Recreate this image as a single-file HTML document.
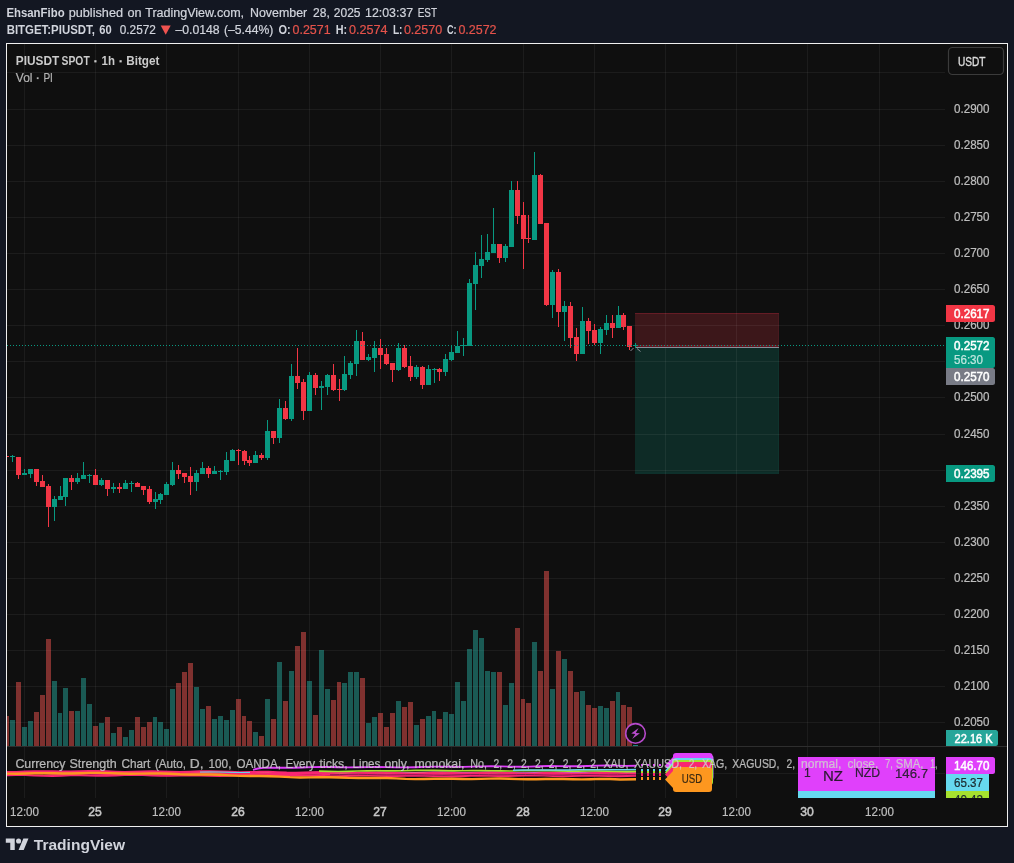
<!DOCTYPE html>
<html><head><meta charset="utf-8"><title>PIUSDT chart</title>
<style>html,body{margin:0;padding:0;background:#131722;width:1014px;height:863px;overflow:hidden;font-family:"Liberation Sans",sans-serif}</style>
</head><body>
<svg width="1014" height="863" viewBox="0 0 1014 863" style="position:absolute;left:0;top:0;display:block;will-change:transform" font-family="Liberation Sans, sans-serif">
<rect width="1014" height="863" fill="#131722"/>
<rect x="6" y="43" width="1002" height="784" fill="#f0f0f0"/>
<rect x="7" y="44" width="1000" height="782" fill="#0f0f0f"/>
<g fill="#ffffff" fill-opacity="0.055" shape-rendering="crispEdges">
<rect x="7" y="72" width="938" height="1"/>
<rect x="7" y="109" width="938" height="1"/>
<rect x="7" y="145" width="938" height="1"/>
<rect x="7" y="181" width="938" height="1"/>
<rect x="7" y="217" width="938" height="1"/>
<rect x="7" y="253" width="938" height="1"/>
<rect x="7" y="289" width="938" height="1"/>
<rect x="7" y="325" width="938" height="1"/>
<rect x="7" y="361" width="938" height="1"/>
<rect x="7" y="397" width="938" height="1"/>
<rect x="7" y="434" width="938" height="1"/>
<rect x="7" y="470" width="938" height="1"/>
<rect x="7" y="506" width="938" height="1"/>
<rect x="7" y="542" width="938" height="1"/>
<rect x="7" y="578" width="938" height="1"/>
<rect x="7" y="614" width="938" height="1"/>
<rect x="7" y="650" width="938" height="1"/>
<rect x="7" y="686" width="938" height="1"/>
<rect x="7" y="722" width="938" height="1"/>
<rect x="7" y="773" width="938" height="1"/>
<rect x="24" y="44" width="1" height="754"/>
<rect x="95" y="44" width="1" height="754"/>
<rect x="166" y="44" width="1" height="754"/>
<rect x="238" y="44" width="1" height="754"/>
<rect x="309" y="44" width="1" height="754"/>
<rect x="380" y="44" width="1" height="754"/>
<rect x="451" y="44" width="1" height="754"/>
<rect x="523" y="44" width="1" height="754"/>
<rect x="594" y="44" width="1" height="754"/>
<rect x="665" y="44" width="1" height="754"/>
<rect x="736" y="44" width="1" height="754"/>
<rect x="807" y="44" width="1" height="754"/>
<rect x="879" y="44" width="1" height="754"/>
</g>
<rect x="7" y="746" width="1000" height="1" fill="#2e2e2e" shape-rendering="crispEdges"/>
<g shape-rendering="crispEdges">
<rect x="7" y="716" width="2" height="30" fill="rgba(239,83,80,0.5)"/>
<rect x="10" y="720" width="5" height="26" fill="rgba(38,166,154,0.5)"/>
<rect x="16" y="682" width="5" height="64" fill="rgba(239,83,80,0.5)"/>
<rect x="22" y="727" width="5" height="19" fill="rgba(38,166,154,0.5)"/>
<rect x="28" y="721" width="5" height="25" fill="rgba(38,166,154,0.5)"/>
<rect x="34" y="712" width="5" height="34" fill="rgba(239,83,80,0.5)"/>
<rect x="40" y="695" width="5" height="51" fill="rgba(239,83,80,0.5)"/>
<rect x="46" y="639" width="5" height="107" fill="rgba(239,83,80,0.5)"/>
<rect x="52" y="681" width="5" height="65" fill="rgba(38,166,154,0.5)"/>
<rect x="58" y="713" width="4" height="33" fill="rgba(38,166,154,0.5)"/>
<rect x="63" y="688" width="5" height="58" fill="rgba(38,166,154,0.5)"/>
<rect x="69" y="711" width="5" height="35" fill="rgba(239,83,80,0.5)"/>
<rect x="75" y="711" width="5" height="35" fill="rgba(38,166,154,0.5)"/>
<rect x="81" y="678" width="5" height="68" fill="rgba(38,166,154,0.5)"/>
<rect x="87" y="704" width="5" height="42" fill="rgba(38,166,154,0.5)"/>
<rect x="93" y="726" width="5" height="20" fill="rgba(239,83,80,0.5)"/>
<rect x="99" y="723" width="5" height="23" fill="rgba(38,166,154,0.5)"/>
<rect x="105" y="717" width="5" height="29" fill="rgba(239,83,80,0.5)"/>
<rect x="111" y="733" width="5" height="13" fill="rgba(38,166,154,0.5)"/>
<rect x="117" y="727" width="5" height="19" fill="rgba(239,83,80,0.5)"/>
<rect x="123" y="737" width="5" height="9" fill="rgba(38,166,154,0.5)"/>
<rect x="129" y="730" width="5" height="16" fill="rgba(38,166,154,0.5)"/>
<rect x="135" y="717" width="5" height="29" fill="rgba(239,83,80,0.5)"/>
<rect x="141" y="727" width="5" height="19" fill="rgba(239,83,80,0.5)"/>
<rect x="147" y="722" width="5" height="24" fill="rgba(239,83,80,0.5)"/>
<rect x="153" y="717" width="4" height="29" fill="rgba(38,166,154,0.5)"/>
<rect x="158" y="722" width="5" height="24" fill="rgba(38,166,154,0.5)"/>
<rect x="164" y="729" width="5" height="17" fill="rgba(38,166,154,0.5)"/>
<rect x="170" y="689" width="5" height="57" fill="rgba(38,166,154,0.5)"/>
<rect x="176" y="683" width="5" height="63" fill="rgba(239,83,80,0.5)"/>
<rect x="182" y="672" width="5" height="74" fill="rgba(239,83,80,0.5)"/>
<rect x="188" y="663" width="5" height="83" fill="rgba(239,83,80,0.5)"/>
<rect x="194" y="687" width="5" height="59" fill="rgba(38,166,154,0.5)"/>
<rect x="200" y="709" width="5" height="37" fill="rgba(38,166,154,0.5)"/>
<rect x="206" y="706" width="5" height="40" fill="rgba(239,83,80,0.5)"/>
<rect x="212" y="719" width="5" height="27" fill="rgba(38,166,154,0.5)"/>
<rect x="218" y="716" width="5" height="30" fill="rgba(38,166,154,0.5)"/>
<rect x="224" y="720" width="5" height="26" fill="rgba(38,166,154,0.5)"/>
<rect x="230" y="710" width="5" height="36" fill="rgba(38,166,154,0.5)"/>
<rect x="236" y="699" width="5" height="47" fill="rgba(239,83,80,0.5)"/>
<rect x="242" y="716" width="4" height="30" fill="rgba(239,83,80,0.5)"/>
<rect x="247" y="721" width="5" height="25" fill="rgba(239,83,80,0.5)"/>
<rect x="253" y="732" width="5" height="14" fill="rgba(38,166,154,0.5)"/>
<rect x="259" y="736" width="5" height="10" fill="rgba(239,83,80,0.5)"/>
<rect x="265" y="699" width="5" height="47" fill="rgba(38,166,154,0.5)"/>
<rect x="271" y="719" width="5" height="27" fill="rgba(239,83,80,0.5)"/>
<rect x="277" y="662" width="5" height="84" fill="rgba(38,166,154,0.5)"/>
<rect x="283" y="701" width="5" height="45" fill="rgba(239,83,80,0.5)"/>
<rect x="289" y="671" width="5" height="75" fill="rgba(38,166,154,0.5)"/>
<rect x="295" y="646" width="5" height="100" fill="rgba(239,83,80,0.5)"/>
<rect x="301" y="632" width="5" height="114" fill="rgba(239,83,80,0.5)"/>
<rect x="307" y="681" width="5" height="65" fill="rgba(38,166,154,0.5)"/>
<rect x="313" y="715" width="5" height="31" fill="rgba(239,83,80,0.5)"/>
<rect x="319" y="650" width="5" height="96" fill="rgba(38,166,154,0.5)"/>
<rect x="325" y="689" width="5" height="57" fill="rgba(38,166,154,0.5)"/>
<rect x="331" y="700" width="5" height="46" fill="rgba(239,83,80,0.5)"/>
<rect x="337" y="682" width="4" height="64" fill="rgba(239,83,80,0.5)"/>
<rect x="342" y="683" width="5" height="63" fill="rgba(38,166,154,0.5)"/>
<rect x="348" y="672" width="5" height="74" fill="rgba(38,166,154,0.5)"/>
<rect x="354" y="672" width="5" height="74" fill="rgba(38,166,154,0.5)"/>
<rect x="360" y="678" width="5" height="68" fill="rgba(239,83,80,0.5)"/>
<rect x="366" y="723" width="5" height="23" fill="rgba(38,166,154,0.5)"/>
<rect x="372" y="717" width="5" height="29" fill="rgba(38,166,154,0.5)"/>
<rect x="378" y="713" width="5" height="33" fill="rgba(239,83,80,0.5)"/>
<rect x="384" y="727" width="5" height="19" fill="rgba(239,83,80,0.5)"/>
<rect x="390" y="713" width="5" height="33" fill="rgba(239,83,80,0.5)"/>
<rect x="396" y="701" width="5" height="45" fill="rgba(38,166,154,0.5)"/>
<rect x="402" y="707" width="5" height="39" fill="rgba(239,83,80,0.5)"/>
<rect x="408" y="702" width="5" height="44" fill="rgba(239,83,80,0.5)"/>
<rect x="414" y="725" width="5" height="21" fill="rgba(38,166,154,0.5)"/>
<rect x="420" y="719" width="5" height="27" fill="rgba(239,83,80,0.5)"/>
<rect x="426" y="716" width="5" height="30" fill="rgba(38,166,154,0.5)"/>
<rect x="432" y="711" width="4" height="35" fill="rgba(38,166,154,0.5)"/>
<rect x="437" y="719" width="5" height="27" fill="rgba(239,83,80,0.5)"/>
<rect x="443" y="712" width="5" height="34" fill="rgba(38,166,154,0.5)"/>
<rect x="449" y="714" width="5" height="32" fill="rgba(38,166,154,0.5)"/>
<rect x="455" y="682" width="5" height="64" fill="rgba(38,166,154,0.5)"/>
<rect x="461" y="701" width="5" height="45" fill="rgba(38,166,154,0.5)"/>
<rect x="467" y="649" width="5" height="97" fill="rgba(38,166,154,0.5)"/>
<rect x="473" y="630" width="5" height="116" fill="rgba(38,166,154,0.5)"/>
<rect x="479" y="638" width="5" height="108" fill="rgba(38,166,154,0.5)"/>
<rect x="485" y="671" width="5" height="75" fill="rgba(38,166,154,0.5)"/>
<rect x="491" y="672" width="5" height="74" fill="rgba(38,166,154,0.5)"/>
<rect x="497" y="672" width="5" height="74" fill="rgba(239,83,80,0.5)"/>
<rect x="503" y="705" width="5" height="41" fill="rgba(38,166,154,0.5)"/>
<rect x="509" y="683" width="5" height="63" fill="rgba(38,166,154,0.5)"/>
<rect x="515" y="628" width="5" height="118" fill="rgba(239,83,80,0.5)"/>
<rect x="521" y="699" width="4" height="47" fill="rgba(239,83,80,0.5)"/>
<rect x="526" y="703" width="5" height="43" fill="rgba(239,83,80,0.5)"/>
<rect x="532" y="642" width="5" height="104" fill="rgba(38,166,154,0.5)"/>
<rect x="538" y="671" width="5" height="75" fill="rgba(239,83,80,0.5)"/>
<rect x="544" y="571" width="5" height="175" fill="rgba(239,83,80,0.5)"/>
<rect x="550" y="689" width="5" height="57" fill="rgba(38,166,154,0.5)"/>
<rect x="556" y="651" width="5" height="95" fill="rgba(239,83,80,0.5)"/>
<rect x="562" y="659" width="5" height="87" fill="rgba(38,166,154,0.5)"/>
<rect x="568" y="671" width="5" height="75" fill="rgba(239,83,80,0.5)"/>
<rect x="574" y="692" width="5" height="54" fill="rgba(239,83,80,0.5)"/>
<rect x="580" y="691" width="5" height="55" fill="rgba(38,166,154,0.5)"/>
<rect x="586" y="705" width="5" height="41" fill="rgba(239,83,80,0.5)"/>
<rect x="592" y="708" width="5" height="38" fill="rgba(239,83,80,0.5)"/>
<rect x="598" y="706" width="5" height="40" fill="rgba(38,166,154,0.5)"/>
<rect x="604" y="708" width="5" height="38" fill="rgba(38,166,154,0.5)"/>
<rect x="610" y="701" width="5" height="45" fill="rgba(239,83,80,0.5)"/>
<rect x="616" y="692" width="4" height="54" fill="rgba(38,166,154,0.5)"/>
<rect x="621" y="705" width="5" height="41" fill="rgba(239,83,80,0.5)"/>
<rect x="627" y="707" width="5" height="39" fill="rgba(239,83,80,0.5)"/>
<rect x="633" y="745" width="5" height="1" fill="#1f847a"/>
</g>
<g shape-rendering="crispEdges">
<rect x="635" y="313" width="144" height="34" fill="#3c171a"/>
<rect x="635" y="313" width="144" height="1" fill="#651c25"/><rect x="778" y="314" width="1" height="33" fill="#481a1f"/>
<rect x="635" y="348" width="144" height="126" fill="#0e2b26"/>
<rect x="635" y="472" width="144" height="2" fill="#0e302b"/><rect x="778" y="348" width="1" height="126" fill="#0f332d"/>
<rect x="635" y="325" width="144" height="1" fill="#ffffff" fill-opacity="0.06"/>
<rect x="635" y="361" width="144" height="1" fill="#ffffff" fill-opacity="0.06"/>
<rect x="635" y="397" width="144" height="1" fill="#ffffff" fill-opacity="0.06"/>
<rect x="635" y="434" width="144" height="1" fill="#ffffff" fill-opacity="0.06"/>
<rect x="635" y="470" width="144" height="1" fill="#ffffff" fill-opacity="0.06"/>
<rect x="665" y="313" width="1" height="161" fill="#ffffff" fill-opacity="0.06"/>
<rect x="736" y="313" width="1" height="161" fill="#ffffff" fill-opacity="0.06"/>
<rect x="635" y="345" width="144" height="1" fill="#6e1622"/><rect x="635" y="346" width="144" height="1" fill="#5a1a24"/>
<rect x="635" y="347" width="144" height="1" fill="#8b8e99"/>
</g>
<g shape-rendering="crispEdges">
<rect x="7" y="456" width="2" height="1" fill="#f23645"/>
<rect x="12" y="455" width="1" height="7" fill="#089981"/>
<rect x="10" y="456" width="5" height="1" fill="#089981"/>
<rect x="18" y="457" width="1" height="22" fill="#f23645"/>
<rect x="16" y="457" width="5" height="18" fill="#f23645"/>
<rect x="24" y="469" width="1" height="6" fill="#089981"/>
<rect x="22" y="473" width="5" height="2" fill="#089981"/>
<rect x="30" y="469" width="1" height="9" fill="#089981"/>
<rect x="28" y="469" width="5" height="5" fill="#089981"/>
<rect x="36" y="469" width="1" height="17" fill="#f23645"/>
<rect x="34" y="469" width="5" height="13" fill="#f23645"/>
<rect x="42" y="475" width="1" height="12" fill="#f23645"/>
<rect x="40" y="481" width="5" height="6" fill="#f23645"/>
<rect x="48" y="484" width="1" height="43" fill="#f23645"/>
<rect x="46" y="486" width="5" height="21" fill="#f23645"/>
<rect x="54" y="496" width="1" height="25" fill="#089981"/>
<rect x="52" y="499" width="5" height="8" fill="#089981"/>
<rect x="60" y="486" width="1" height="14" fill="#089981"/>
<rect x="58" y="496" width="5" height="4" fill="#089981"/>
<rect x="65" y="478" width="1" height="28" fill="#089981"/>
<rect x="63" y="478" width="5" height="19" fill="#089981"/>
<rect x="71" y="475" width="1" height="15" fill="#f23645"/>
<rect x="69" y="478" width="5" height="4" fill="#f23645"/>
<rect x="77" y="473" width="1" height="11" fill="#089981"/>
<rect x="75" y="478" width="5" height="4" fill="#089981"/>
<rect x="83" y="462" width="1" height="17" fill="#089981"/>
<rect x="81" y="475" width="5" height="4" fill="#089981"/>
<rect x="89" y="474" width="1" height="9" fill="#089981"/>
<rect x="87" y="475" width="5" height="1" fill="#089981"/>
<rect x="95" y="469" width="1" height="16" fill="#f23645"/>
<rect x="93" y="475" width="5" height="10" fill="#f23645"/>
<rect x="101" y="478" width="1" height="8" fill="#089981"/>
<rect x="99" y="480" width="5" height="5" fill="#089981"/>
<rect x="107" y="480" width="1" height="16" fill="#f23645"/>
<rect x="105" y="480" width="5" height="9" fill="#f23645"/>
<rect x="113" y="483" width="1" height="10" fill="#089981"/>
<rect x="111" y="487" width="5" height="2" fill="#089981"/>
<rect x="119" y="483" width="1" height="10" fill="#f23645"/>
<rect x="117" y="487" width="5" height="2" fill="#f23645"/>
<rect x="125" y="480" width="1" height="9" fill="#089981"/>
<rect x="123" y="483" width="5" height="6" fill="#089981"/>
<rect x="131" y="481" width="1" height="11" fill="#089981"/>
<rect x="129" y="483" width="5" height="1" fill="#089981"/>
<rect x="137" y="482" width="1" height="5" fill="#f23645"/>
<rect x="135" y="483" width="5" height="4" fill="#f23645"/>
<rect x="143" y="486" width="1" height="9" fill="#f23645"/>
<rect x="141" y="486" width="5" height="4" fill="#f23645"/>
<rect x="149" y="486" width="1" height="18" fill="#f23645"/>
<rect x="147" y="489" width="5" height="13" fill="#f23645"/>
<rect x="155" y="492" width="1" height="17" fill="#089981"/>
<rect x="153" y="499" width="5" height="3" fill="#089981"/>
<rect x="160" y="493" width="1" height="11" fill="#089981"/>
<rect x="158" y="494" width="5" height="6" fill="#089981"/>
<rect x="166" y="482" width="1" height="13" fill="#089981"/>
<rect x="164" y="484" width="5" height="11" fill="#089981"/>
<rect x="172" y="462" width="1" height="24" fill="#089981"/>
<rect x="170" y="470" width="5" height="15" fill="#089981"/>
<rect x="178" y="465" width="1" height="14" fill="#f23645"/>
<rect x="176" y="470" width="5" height="4" fill="#f23645"/>
<rect x="184" y="473" width="1" height="10" fill="#f23645"/>
<rect x="182" y="473" width="5" height="4" fill="#f23645"/>
<rect x="190" y="467" width="1" height="28" fill="#f23645"/>
<rect x="188" y="476" width="5" height="6" fill="#f23645"/>
<rect x="196" y="470" width="1" height="21" fill="#089981"/>
<rect x="194" y="473" width="5" height="9" fill="#089981"/>
<rect x="202" y="462" width="1" height="12" fill="#089981"/>
<rect x="200" y="468" width="5" height="6" fill="#089981"/>
<rect x="208" y="466" width="1" height="12" fill="#f23645"/>
<rect x="206" y="468" width="5" height="6" fill="#f23645"/>
<rect x="214" y="466" width="1" height="8" fill="#089981"/>
<rect x="212" y="471" width="5" height="3" fill="#089981"/>
<rect x="220" y="470" width="1" height="10" fill="#089981"/>
<rect x="218" y="471" width="5" height="1" fill="#089981"/>
<rect x="226" y="452" width="1" height="23" fill="#089981"/>
<rect x="224" y="460" width="5" height="12" fill="#089981"/>
<rect x="232" y="449" width="1" height="12" fill="#089981"/>
<rect x="230" y="450" width="5" height="11" fill="#089981"/>
<rect x="238" y="449" width="1" height="16" fill="#f23645"/>
<rect x="236" y="450" width="5" height="1" fill="#f23645"/>
<rect x="244" y="450" width="1" height="15" fill="#f23645"/>
<rect x="242" y="451" width="5" height="10" fill="#f23645"/>
<rect x="249" y="456" width="1" height="10" fill="#f23645"/>
<rect x="247" y="460" width="5" height="3" fill="#f23645"/>
<rect x="255" y="451" width="1" height="12" fill="#089981"/>
<rect x="253" y="455" width="5" height="8" fill="#089981"/>
<rect x="261" y="453" width="1" height="7" fill="#f23645"/>
<rect x="259" y="455" width="5" height="3" fill="#f23645"/>
<rect x="267" y="420" width="1" height="40" fill="#089981"/>
<rect x="265" y="431" width="5" height="27" fill="#089981"/>
<rect x="273" y="431" width="1" height="13" fill="#f23645"/>
<rect x="271" y="431" width="5" height="7" fill="#f23645"/>
<rect x="279" y="399" width="1" height="44" fill="#089981"/>
<rect x="277" y="408" width="5" height="30" fill="#089981"/>
<rect x="285" y="401" width="1" height="19" fill="#f23645"/>
<rect x="283" y="408" width="5" height="11" fill="#f23645"/>
<rect x="291" y="364" width="1" height="57" fill="#089981"/>
<rect x="289" y="376" width="5" height="43" fill="#089981"/>
<rect x="297" y="348" width="1" height="41" fill="#f23645"/>
<rect x="295" y="376" width="5" height="7" fill="#f23645"/>
<rect x="303" y="379" width="1" height="41" fill="#f23645"/>
<rect x="301" y="382" width="5" height="29" fill="#f23645"/>
<rect x="309" y="372" width="1" height="39" fill="#089981"/>
<rect x="307" y="375" width="5" height="36" fill="#089981"/>
<rect x="315" y="373" width="1" height="22" fill="#f23645"/>
<rect x="313" y="375" width="5" height="13" fill="#f23645"/>
<rect x="321" y="381" width="1" height="29" fill="#089981"/>
<rect x="319" y="386" width="5" height="2" fill="#089981"/>
<rect x="327" y="374" width="1" height="21" fill="#089981"/>
<rect x="325" y="375" width="5" height="12" fill="#089981"/>
<rect x="333" y="364" width="1" height="27" fill="#f23645"/>
<rect x="331" y="375" width="5" height="15" fill="#f23645"/>
<rect x="339" y="379" width="1" height="22" fill="#f23645"/>
<rect x="337" y="389" width="5" height="1" fill="#f23645"/>
<rect x="344" y="356" width="1" height="35" fill="#089981"/>
<rect x="342" y="374" width="5" height="16" fill="#089981"/>
<rect x="350" y="361" width="1" height="18" fill="#089981"/>
<rect x="348" y="363" width="5" height="12" fill="#089981"/>
<rect x="356" y="330" width="1" height="46" fill="#089981"/>
<rect x="354" y="341" width="5" height="23" fill="#089981"/>
<rect x="362" y="332" width="1" height="28" fill="#f23645"/>
<rect x="360" y="341" width="5" height="19" fill="#f23645"/>
<rect x="368" y="354" width="1" height="7" fill="#089981"/>
<rect x="366" y="357" width="5" height="3" fill="#089981"/>
<rect x="374" y="341" width="1" height="31" fill="#089981"/>
<rect x="372" y="348" width="5" height="10" fill="#089981"/>
<rect x="380" y="339" width="1" height="30" fill="#f23645"/>
<rect x="378" y="348" width="5" height="7" fill="#f23645"/>
<rect x="386" y="348" width="1" height="17" fill="#f23645"/>
<rect x="384" y="354" width="5" height="10" fill="#f23645"/>
<rect x="392" y="363" width="1" height="19" fill="#f23645"/>
<rect x="390" y="363" width="5" height="7" fill="#f23645"/>
<rect x="398" y="343" width="1" height="28" fill="#089981"/>
<rect x="396" y="348" width="5" height="22" fill="#089981"/>
<rect x="404" y="345" width="1" height="23" fill="#f23645"/>
<rect x="402" y="348" width="5" height="19" fill="#f23645"/>
<rect x="410" y="356" width="1" height="25" fill="#f23645"/>
<rect x="408" y="366" width="5" height="11" fill="#f23645"/>
<rect x="416" y="365" width="1" height="14" fill="#089981"/>
<rect x="414" y="367" width="5" height="10" fill="#089981"/>
<rect x="422" y="366" width="1" height="23" fill="#f23645"/>
<rect x="420" y="367" width="5" height="18" fill="#f23645"/>
<rect x="428" y="365" width="1" height="20" fill="#089981"/>
<rect x="426" y="369" width="5" height="16" fill="#089981"/>
<rect x="434" y="368" width="1" height="15" fill="#089981"/>
<rect x="432" y="369" width="5" height="1" fill="#089981"/>
<rect x="439" y="368" width="1" height="13" fill="#f23645"/>
<rect x="437" y="369" width="5" height="3" fill="#f23645"/>
<rect x="445" y="354" width="1" height="22" fill="#089981"/>
<rect x="443" y="359" width="5" height="13" fill="#089981"/>
<rect x="451" y="345" width="1" height="16" fill="#089981"/>
<rect x="449" y="352" width="5" height="8" fill="#089981"/>
<rect x="457" y="331" width="1" height="22" fill="#089981"/>
<rect x="455" y="346" width="5" height="7" fill="#089981"/>
<rect x="463" y="338" width="1" height="18" fill="#089981"/>
<rect x="461" y="345" width="5" height="1" fill="#089981"/>
<rect x="469" y="279" width="1" height="67" fill="#089981"/>
<rect x="467" y="283" width="5" height="63" fill="#089981"/>
<rect x="475" y="252" width="1" height="58" fill="#089981"/>
<rect x="473" y="265" width="5" height="19" fill="#089981"/>
<rect x="481" y="235" width="1" height="43" fill="#089981"/>
<rect x="479" y="259" width="5" height="7" fill="#089981"/>
<rect x="487" y="234" width="1" height="28" fill="#089981"/>
<rect x="485" y="252" width="5" height="8" fill="#089981"/>
<rect x="493" y="208" width="1" height="45" fill="#089981"/>
<rect x="491" y="244" width="5" height="9" fill="#089981"/>
<rect x="499" y="244" width="1" height="19" fill="#f23645"/>
<rect x="497" y="244" width="5" height="14" fill="#f23645"/>
<rect x="505" y="244" width="1" height="18" fill="#089981"/>
<rect x="503" y="246" width="5" height="12" fill="#089981"/>
<rect x="511" y="181" width="1" height="66" fill="#089981"/>
<rect x="509" y="190" width="5" height="57" fill="#089981"/>
<rect x="517" y="181" width="1" height="43" fill="#f23645"/>
<rect x="515" y="190" width="5" height="26" fill="#f23645"/>
<rect x="523" y="202" width="1" height="67" fill="#f23645"/>
<rect x="521" y="215" width="5" height="24" fill="#f23645"/>
<rect x="528" y="215" width="1" height="28" fill="#f23645"/>
<rect x="526" y="238" width="5" height="1" fill="#f23645"/>
<rect x="534" y="152" width="1" height="88" fill="#089981"/>
<rect x="532" y="175" width="5" height="65" fill="#089981"/>
<rect x="540" y="174" width="1" height="50" fill="#f23645"/>
<rect x="538" y="175" width="5" height="49" fill="#f23645"/>
<rect x="546" y="223" width="1" height="83" fill="#f23645"/>
<rect x="544" y="223" width="5" height="82" fill="#f23645"/>
<rect x="552" y="270" width="1" height="48" fill="#089981"/>
<rect x="550" y="272" width="5" height="33" fill="#089981"/>
<rect x="558" y="269" width="1" height="58" fill="#f23645"/>
<rect x="556" y="272" width="5" height="40" fill="#f23645"/>
<rect x="564" y="301" width="1" height="40" fill="#089981"/>
<rect x="562" y="306" width="5" height="6" fill="#089981"/>
<rect x="570" y="302" width="1" height="46" fill="#f23645"/>
<rect x="568" y="306" width="5" height="32" fill="#f23645"/>
<rect x="576" y="328" width="1" height="33" fill="#f23645"/>
<rect x="574" y="337" width="5" height="17" fill="#f23645"/>
<rect x="582" y="307" width="1" height="47" fill="#089981"/>
<rect x="580" y="321" width="5" height="33" fill="#089981"/>
<rect x="588" y="318" width="1" height="26" fill="#f23645"/>
<rect x="586" y="321" width="5" height="10" fill="#f23645"/>
<rect x="594" y="324" width="1" height="21" fill="#f23645"/>
<rect x="592" y="330" width="5" height="13" fill="#f23645"/>
<rect x="600" y="327" width="1" height="27" fill="#089981"/>
<rect x="598" y="329" width="5" height="14" fill="#089981"/>
<rect x="606" y="315" width="1" height="20" fill="#089981"/>
<rect x="604" y="323" width="5" height="7" fill="#089981"/>
<rect x="612" y="315" width="1" height="23" fill="#f23645"/>
<rect x="610" y="323" width="5" height="5" fill="#f23645"/>
<rect x="618" y="306" width="1" height="22" fill="#089981"/>
<rect x="616" y="315" width="5" height="13" fill="#089981"/>
<rect x="623" y="313" width="1" height="17" fill="#f23645"/>
<rect x="621" y="315" width="5" height="12" fill="#f23645"/>
<rect x="629" y="326" width="1" height="24" fill="#f23645"/>
<rect x="627" y="326" width="5" height="21" fill="#f23645"/>
</g>
<g fill="#089981" shape-rendering="crispEdges">
<rect x="7" y="345" width="1" height="1"/>
<rect x="10" y="345" width="1" height="1"/>
<rect x="13" y="345" width="1" height="1"/>
<rect x="16" y="345" width="1" height="1"/>
<rect x="19" y="345" width="1" height="1"/>
<rect x="22" y="345" width="1" height="1"/>
<rect x="25" y="345" width="1" height="1"/>
<rect x="28" y="345" width="1" height="1"/>
<rect x="31" y="345" width="1" height="1"/>
<rect x="34" y="345" width="1" height="1"/>
<rect x="37" y="345" width="1" height="1"/>
<rect x="40" y="345" width="1" height="1"/>
<rect x="43" y="345" width="1" height="1"/>
<rect x="46" y="345" width="1" height="1"/>
<rect x="49" y="345" width="1" height="1"/>
<rect x="52" y="345" width="1" height="1"/>
<rect x="55" y="345" width="1" height="1"/>
<rect x="58" y="345" width="1" height="1"/>
<rect x="61" y="345" width="1" height="1"/>
<rect x="64" y="345" width="1" height="1"/>
<rect x="67" y="345" width="1" height="1"/>
<rect x="70" y="345" width="1" height="1"/>
<rect x="73" y="345" width="1" height="1"/>
<rect x="76" y="345" width="1" height="1"/>
<rect x="79" y="345" width="1" height="1"/>
<rect x="82" y="345" width="1" height="1"/>
<rect x="85" y="345" width="1" height="1"/>
<rect x="88" y="345" width="1" height="1"/>
<rect x="91" y="345" width="1" height="1"/>
<rect x="94" y="345" width="1" height="1"/>
<rect x="97" y="345" width="1" height="1"/>
<rect x="100" y="345" width="1" height="1"/>
<rect x="103" y="345" width="1" height="1"/>
<rect x="106" y="345" width="1" height="1"/>
<rect x="109" y="345" width="1" height="1"/>
<rect x="112" y="345" width="1" height="1"/>
<rect x="115" y="345" width="1" height="1"/>
<rect x="118" y="345" width="1" height="1"/>
<rect x="121" y="345" width="1" height="1"/>
<rect x="124" y="345" width="1" height="1"/>
<rect x="127" y="345" width="1" height="1"/>
<rect x="130" y="345" width="1" height="1"/>
<rect x="133" y="345" width="1" height="1"/>
<rect x="136" y="345" width="1" height="1"/>
<rect x="139" y="345" width="1" height="1"/>
<rect x="142" y="345" width="1" height="1"/>
<rect x="145" y="345" width="1" height="1"/>
<rect x="148" y="345" width="1" height="1"/>
<rect x="151" y="345" width="1" height="1"/>
<rect x="154" y="345" width="1" height="1"/>
<rect x="157" y="345" width="1" height="1"/>
<rect x="160" y="345" width="1" height="1"/>
<rect x="163" y="345" width="1" height="1"/>
<rect x="166" y="345" width="1" height="1"/>
<rect x="169" y="345" width="1" height="1"/>
<rect x="172" y="345" width="1" height="1"/>
<rect x="175" y="345" width="1" height="1"/>
<rect x="178" y="345" width="1" height="1"/>
<rect x="181" y="345" width="1" height="1"/>
<rect x="184" y="345" width="1" height="1"/>
<rect x="187" y="345" width="1" height="1"/>
<rect x="190" y="345" width="1" height="1"/>
<rect x="193" y="345" width="1" height="1"/>
<rect x="196" y="345" width="1" height="1"/>
<rect x="199" y="345" width="1" height="1"/>
<rect x="202" y="345" width="1" height="1"/>
<rect x="205" y="345" width="1" height="1"/>
<rect x="208" y="345" width="1" height="1"/>
<rect x="211" y="345" width="1" height="1"/>
<rect x="214" y="345" width="1" height="1"/>
<rect x="217" y="345" width="1" height="1"/>
<rect x="220" y="345" width="1" height="1"/>
<rect x="223" y="345" width="1" height="1"/>
<rect x="226" y="345" width="1" height="1"/>
<rect x="229" y="345" width="1" height="1"/>
<rect x="232" y="345" width="1" height="1"/>
<rect x="235" y="345" width="1" height="1"/>
<rect x="238" y="345" width="1" height="1"/>
<rect x="241" y="345" width="1" height="1"/>
<rect x="244" y="345" width="1" height="1"/>
<rect x="247" y="345" width="1" height="1"/>
<rect x="250" y="345" width="1" height="1"/>
<rect x="253" y="345" width="1" height="1"/>
<rect x="256" y="345" width="1" height="1"/>
<rect x="259" y="345" width="1" height="1"/>
<rect x="262" y="345" width="1" height="1"/>
<rect x="265" y="345" width="1" height="1"/>
<rect x="268" y="345" width="1" height="1"/>
<rect x="271" y="345" width="1" height="1"/>
<rect x="274" y="345" width="1" height="1"/>
<rect x="277" y="345" width="1" height="1"/>
<rect x="280" y="345" width="1" height="1"/>
<rect x="283" y="345" width="1" height="1"/>
<rect x="286" y="345" width="1" height="1"/>
<rect x="289" y="345" width="1" height="1"/>
<rect x="292" y="345" width="1" height="1"/>
<rect x="295" y="345" width="1" height="1"/>
<rect x="298" y="345" width="1" height="1"/>
<rect x="301" y="345" width="1" height="1"/>
<rect x="304" y="345" width="1" height="1"/>
<rect x="307" y="345" width="1" height="1"/>
<rect x="310" y="345" width="1" height="1"/>
<rect x="313" y="345" width="1" height="1"/>
<rect x="316" y="345" width="1" height="1"/>
<rect x="319" y="345" width="1" height="1"/>
<rect x="322" y="345" width="1" height="1"/>
<rect x="325" y="345" width="1" height="1"/>
<rect x="328" y="345" width="1" height="1"/>
<rect x="331" y="345" width="1" height="1"/>
<rect x="334" y="345" width="1" height="1"/>
<rect x="337" y="345" width="1" height="1"/>
<rect x="340" y="345" width="1" height="1"/>
<rect x="343" y="345" width="1" height="1"/>
<rect x="346" y="345" width="1" height="1"/>
<rect x="349" y="345" width="1" height="1"/>
<rect x="352" y="345" width="1" height="1"/>
<rect x="355" y="345" width="1" height="1"/>
<rect x="358" y="345" width="1" height="1"/>
<rect x="361" y="345" width="1" height="1"/>
<rect x="364" y="345" width="1" height="1"/>
<rect x="367" y="345" width="1" height="1"/>
<rect x="370" y="345" width="1" height="1"/>
<rect x="373" y="345" width="1" height="1"/>
<rect x="376" y="345" width="1" height="1"/>
<rect x="379" y="345" width="1" height="1"/>
<rect x="382" y="345" width="1" height="1"/>
<rect x="385" y="345" width="1" height="1"/>
<rect x="388" y="345" width="1" height="1"/>
<rect x="391" y="345" width="1" height="1"/>
<rect x="394" y="345" width="1" height="1"/>
<rect x="397" y="345" width="1" height="1"/>
<rect x="400" y="345" width="1" height="1"/>
<rect x="403" y="345" width="1" height="1"/>
<rect x="406" y="345" width="1" height="1"/>
<rect x="409" y="345" width="1" height="1"/>
<rect x="412" y="345" width="1" height="1"/>
<rect x="415" y="345" width="1" height="1"/>
<rect x="418" y="345" width="1" height="1"/>
<rect x="421" y="345" width="1" height="1"/>
<rect x="424" y="345" width="1" height="1"/>
<rect x="427" y="345" width="1" height="1"/>
<rect x="430" y="345" width="1" height="1"/>
<rect x="433" y="345" width="1" height="1"/>
<rect x="436" y="345" width="1" height="1"/>
<rect x="439" y="345" width="1" height="1"/>
<rect x="442" y="345" width="1" height="1"/>
<rect x="445" y="345" width="1" height="1"/>
<rect x="448" y="345" width="1" height="1"/>
<rect x="451" y="345" width="1" height="1"/>
<rect x="454" y="345" width="1" height="1"/>
<rect x="457" y="345" width="1" height="1"/>
<rect x="460" y="345" width="1" height="1"/>
<rect x="463" y="345" width="1" height="1"/>
<rect x="466" y="345" width="1" height="1"/>
<rect x="469" y="345" width="1" height="1"/>
<rect x="472" y="345" width="1" height="1"/>
<rect x="475" y="345" width="1" height="1"/>
<rect x="478" y="345" width="1" height="1"/>
<rect x="481" y="345" width="1" height="1"/>
<rect x="484" y="345" width="1" height="1"/>
<rect x="487" y="345" width="1" height="1"/>
<rect x="490" y="345" width="1" height="1"/>
<rect x="493" y="345" width="1" height="1"/>
<rect x="496" y="345" width="1" height="1"/>
<rect x="499" y="345" width="1" height="1"/>
<rect x="502" y="345" width="1" height="1"/>
<rect x="505" y="345" width="1" height="1"/>
<rect x="508" y="345" width="1" height="1"/>
<rect x="511" y="345" width="1" height="1"/>
<rect x="514" y="345" width="1" height="1"/>
<rect x="517" y="345" width="1" height="1"/>
<rect x="520" y="345" width="1" height="1"/>
<rect x="523" y="345" width="1" height="1"/>
<rect x="526" y="345" width="1" height="1"/>
<rect x="529" y="345" width="1" height="1"/>
<rect x="532" y="345" width="1" height="1"/>
<rect x="535" y="345" width="1" height="1"/>
<rect x="538" y="345" width="1" height="1"/>
<rect x="541" y="345" width="1" height="1"/>
<rect x="544" y="345" width="1" height="1"/>
<rect x="547" y="345" width="1" height="1"/>
<rect x="550" y="345" width="1" height="1"/>
<rect x="553" y="345" width="1" height="1"/>
<rect x="556" y="345" width="1" height="1"/>
<rect x="559" y="345" width="1" height="1"/>
<rect x="562" y="345" width="1" height="1"/>
<rect x="565" y="345" width="1" height="1"/>
<rect x="568" y="345" width="1" height="1"/>
<rect x="571" y="345" width="1" height="1"/>
<rect x="574" y="345" width="1" height="1"/>
<rect x="577" y="345" width="1" height="1"/>
<rect x="580" y="345" width="1" height="1"/>
<rect x="583" y="345" width="1" height="1"/>
<rect x="586" y="345" width="1" height="1"/>
<rect x="589" y="345" width="1" height="1"/>
<rect x="592" y="345" width="1" height="1"/>
<rect x="595" y="345" width="1" height="1"/>
<rect x="598" y="345" width="1" height="1"/>
<rect x="601" y="345" width="1" height="1"/>
<rect x="604" y="345" width="1" height="1"/>
<rect x="607" y="345" width="1" height="1"/>
<rect x="610" y="345" width="1" height="1"/>
<rect x="613" y="345" width="1" height="1"/>
<rect x="616" y="345" width="1" height="1"/>
<rect x="619" y="345" width="1" height="1"/>
<rect x="622" y="345" width="1" height="1"/>
<rect x="625" y="345" width="1" height="1"/>
<rect x="628" y="345" width="1" height="1"/>
<rect x="631" y="345" width="1" height="1"/>
<rect x="634" y="345" width="1" height="1"/>
<rect x="637" y="345" width="1" height="1"/>
<rect x="640" y="345" width="1" height="1"/>
<rect x="643" y="345" width="1" height="1"/>
<rect x="646" y="345" width="1" height="1"/>
<rect x="649" y="345" width="1" height="1"/>
<rect x="652" y="345" width="1" height="1"/>
<rect x="655" y="345" width="1" height="1"/>
<rect x="658" y="345" width="1" height="1"/>
<rect x="661" y="345" width="1" height="1"/>
<rect x="664" y="345" width="1" height="1"/>
<rect x="667" y="345" width="1" height="1"/>
<rect x="670" y="345" width="1" height="1"/>
<rect x="673" y="345" width="1" height="1"/>
<rect x="676" y="345" width="1" height="1"/>
<rect x="679" y="345" width="1" height="1"/>
<rect x="682" y="345" width="1" height="1"/>
<rect x="685" y="345" width="1" height="1"/>
<rect x="688" y="345" width="1" height="1"/>
<rect x="691" y="345" width="1" height="1"/>
<rect x="694" y="345" width="1" height="1"/>
<rect x="697" y="345" width="1" height="1"/>
<rect x="700" y="345" width="1" height="1"/>
<rect x="703" y="345" width="1" height="1"/>
<rect x="706" y="345" width="1" height="1"/>
<rect x="709" y="345" width="1" height="1"/>
<rect x="712" y="345" width="1" height="1"/>
<rect x="715" y="345" width="1" height="1"/>
<rect x="718" y="345" width="1" height="1"/>
<rect x="721" y="345" width="1" height="1"/>
<rect x="724" y="345" width="1" height="1"/>
<rect x="727" y="345" width="1" height="1"/>
<rect x="730" y="345" width="1" height="1"/>
<rect x="733" y="345" width="1" height="1"/>
<rect x="736" y="345" width="1" height="1"/>
<rect x="739" y="345" width="1" height="1"/>
<rect x="742" y="345" width="1" height="1"/>
<rect x="745" y="345" width="1" height="1"/>
<rect x="748" y="345" width="1" height="1"/>
<rect x="751" y="345" width="1" height="1"/>
<rect x="754" y="345" width="1" height="1"/>
<rect x="757" y="345" width="1" height="1"/>
<rect x="760" y="345" width="1" height="1"/>
<rect x="763" y="345" width="1" height="1"/>
<rect x="766" y="345" width="1" height="1"/>
<rect x="769" y="345" width="1" height="1"/>
<rect x="772" y="345" width="1" height="1"/>
<rect x="775" y="345" width="1" height="1"/>
<rect x="778" y="345" width="1" height="1"/>
<rect x="781" y="345" width="1" height="1"/>
<rect x="784" y="345" width="1" height="1"/>
<rect x="787" y="345" width="1" height="1"/>
<rect x="790" y="345" width="1" height="1"/>
<rect x="793" y="345" width="1" height="1"/>
<rect x="796" y="345" width="1" height="1"/>
<rect x="799" y="345" width="1" height="1"/>
<rect x="802" y="345" width="1" height="1"/>
<rect x="805" y="345" width="1" height="1"/>
<rect x="808" y="345" width="1" height="1"/>
<rect x="811" y="345" width="1" height="1"/>
<rect x="814" y="345" width="1" height="1"/>
<rect x="817" y="345" width="1" height="1"/>
<rect x="820" y="345" width="1" height="1"/>
<rect x="823" y="345" width="1" height="1"/>
<rect x="826" y="345" width="1" height="1"/>
<rect x="829" y="345" width="1" height="1"/>
<rect x="832" y="345" width="1" height="1"/>
<rect x="835" y="345" width="1" height="1"/>
<rect x="838" y="345" width="1" height="1"/>
<rect x="841" y="345" width="1" height="1"/>
<rect x="844" y="345" width="1" height="1"/>
<rect x="847" y="345" width="1" height="1"/>
<rect x="850" y="345" width="1" height="1"/>
<rect x="853" y="345" width="1" height="1"/>
<rect x="856" y="345" width="1" height="1"/>
<rect x="859" y="345" width="1" height="1"/>
<rect x="862" y="345" width="1" height="1"/>
<rect x="865" y="345" width="1" height="1"/>
<rect x="868" y="345" width="1" height="1"/>
<rect x="871" y="345" width="1" height="1"/>
<rect x="874" y="345" width="1" height="1"/>
<rect x="877" y="345" width="1" height="1"/>
<rect x="880" y="345" width="1" height="1"/>
<rect x="883" y="345" width="1" height="1"/>
<rect x="886" y="345" width="1" height="1"/>
<rect x="889" y="345" width="1" height="1"/>
<rect x="892" y="345" width="1" height="1"/>
<rect x="895" y="345" width="1" height="1"/>
<rect x="898" y="345" width="1" height="1"/>
<rect x="901" y="345" width="1" height="1"/>
<rect x="904" y="345" width="1" height="1"/>
<rect x="907" y="345" width="1" height="1"/>
<rect x="910" y="345" width="1" height="1"/>
<rect x="913" y="345" width="1" height="1"/>
<rect x="916" y="345" width="1" height="1"/>
<rect x="919" y="345" width="1" height="1"/>
<rect x="922" y="345" width="1" height="1"/>
<rect x="925" y="345" width="1" height="1"/>
<rect x="928" y="345" width="1" height="1"/>
<rect x="931" y="345" width="1" height="1"/>
<rect x="934" y="345" width="1" height="1"/>
<rect x="937" y="345" width="1" height="1"/>
<rect x="940" y="345" width="1" height="1"/>
<rect x="943" y="345" width="1" height="1"/>
<rect x="633" y="345" width="5" height="1"/><rect x="635" y="343" width="1" height="5"/>
</g>
<g stroke="#8b8e99" stroke-width="1" fill="none"><path d="M630.5 351 L633.5 348"/><path d="M637 348.5 L640.5 351.5"/></g>
<g fill="none" stroke-linejoin="round" stroke-linecap="butt">
<polyline points="7.0,774.02 16.2,773.78 25.4,773.43 34.6,773.25 43.8,773.36 53.0,773.63 62.1,773.78 71.3,773.69 80.5,773.46 89.7,773.38 98.9,773.57 108.1,773.93 117.3,774.18 126.5,774.12 135.7,773.83 144.9,773.56 154.0,773.55 163.2,773.75 172.4,773.93 181.6,773.87 190.8,773.61 200.0,773.38 210.0,773.29 220.0,773.51 230.0,773.72 240.0,773.61 250.0,773.23 260.0,772.89 269.1,772.91 278.2,773.10 287.4,773.23 296.5,773.09 305.6,772.73 314.7,772.40 323.8,772.35 332.9,772.57 342.1,772.85 351.2,772.93 360.3,772.75 369.4,772.52 378.5,772.47 387.6,772.66 396.8,772.92 405.9,772.97 415.0,772.72 424.2,772.35 433.4,772.13 442.6,772.19 451.8,772.44 461.0,772.60 470.2,772.51 479.5,772.27 488.7,772.14 497.9,772.30 507.1,772.64 516.3,772.90 525.5,772.86 534.7,772.57 543.9,772.29 553.1,772.24 562.3,772.41 571.5,772.59 580.8,772.54 590.0,772.27 599.2,772.00 608.4,772.00 617.6,772.29 626.8,772.63 636.0,772.40" stroke="#ae81ff" stroke-width="1.2"/>
<polyline points="7.0,772.54 16.2,772.24 25.4,772.14 34.6,772.35 43.8,772.71 53.0,772.94 62.1,772.87 71.3,772.64 80.5,772.48 89.7,772.58 98.9,772.82 108.1,772.95 117.3,772.80 126.5,772.45 135.7,772.17 144.9,772.19 154.0,772.45 163.2,772.73 172.4,772.78 181.6,772.60 190.8,772.42 200.0,772.46 209.2,772.75 218.5,773.04 227.7,773.08 236.9,772.82 246.2,772.49 255.4,772.35 264.6,772.50 273.8,772.75 283.1,772.86 292.3,772.71 301.5,772.48 310.8,772.44 320.0,772.69 329.0,773.10 338.1,773.36 347.1,773.32 356.1,773.08 365.1,772.90 374.2,772.96 383.2,773.21 392.2,773.41 401.3,773.38 410.3,773.14 419.3,772.94 428.3,772.99 437.4,773.32 446.4,773.72 455.4,773.91 464.5,773.83 473.5,773.65 482.5,773.61 491.5,773.80 500.6,774.10 509.6,774.24 518.6,774.09 527.7,773.79 536.7,773.60 545.7,773.69 554.7,774.02 563.8,774.32 572.8,774.40 581.8,774.27 590.9,774.15 599.9,774.25 608.9,774.57 617.9,774.90 627.0,775.00 636.0,774.60" stroke="#e6db74" stroke-width="1.0"/>
<polyline points="7.0,771.94 16.1,771.88 25.1,771.54 34.2,771.21 43.2,771.15 52.3,771.35 61.3,771.58 70.4,771.57 79.4,771.30 88.5,771.01 97.6,770.98 106.6,771.29 115.7,771.71 124.7,771.94 133.8,771.82 142.8,771.52 151.9,771.34 160.9,771.44 170.0,771.71 180.0,771.89 190.0,771.69 200.0,771.31 210.0,771.14 220.0,771.41 230.0,771.87 240.0,772.13 250.0,772.03 259.2,771.85 268.3,771.86 277.5,772.16 286.7,772.55 295.8,772.71 305.0,772.51 314.2,772.15 323.3,771.94 332.5,772.08 341.7,772.44 350.8,772.71 360.0,772.70 369.2,772.50 378.3,772.41 387.5,772.63 396.7,773.08 405.8,773.46 415.0,773.50 424.2,773.18 433.4,772.83 442.6,772.76 451.8,772.96 461.0,773.19 470.2,773.19 479.5,772.91 488.7,772.61 497.9,772.60 507.1,772.93 516.3,773.36 525.5,773.56 534.7,773.41 543.9,773.12 553.1,772.98 562.3,773.13 571.5,773.41 580.8,773.50 590.0,773.26 599.2,772.86 608.4,772.62 617.6,772.76 626.8,773.13 636.0,773.20" stroke="#f92672" stroke-width="2.0"/>
<polyline points="7.0,773.60 16.1,773.26 25.1,772.99 34.2,772.98 43.2,773.24 52.3,773.54 61.3,773.64 70.4,773.50 79.4,773.30 88.5,773.30 97.6,773.53 106.6,773.82 115.7,773.92 124.7,773.71 133.8,773.36 142.8,773.13 151.9,773.19 160.9,773.44 170.0,773.61 180.0,773.57 190.0,773.35 200.0,773.28 210.0,773.55 220.0,773.97 230.0,774.19 240.0,774.05 250.0,773.75 259.2,773.63 268.3,773.78 277.5,774.03 286.7,774.13 295.8,773.97 305.0,773.71 314.2,773.61 323.3,773.82 332.5,774.22 341.7,774.52 350.8,774.54 360.0,774.35 369.2,774.20 378.3,774.28 387.5,774.55 396.7,774.76 405.8,774.70 415.0,774.40 424.2,774.10 433.4,774.06 442.6,774.30 451.8,774.60 461.0,774.70 470.2,774.55 479.5,774.35 488.7,774.34 497.9,774.59 507.1,774.88 516.3,774.95 525.5,774.71 534.7,774.35 543.9,774.15 553.1,774.24 562.3,774.49 571.5,774.62 580.8,774.51 590.0,774.26 599.2,774.16 608.4,774.34 617.6,774.70 626.8,774.95 636.0,774.50" stroke="#f92672" stroke-width="2.2"/>
<polyline points="7.0,775.18 16.1,774.98 25.1,775.09 34.2,775.47 43.2,775.85 52.3,775.94 61.3,775.71 70.4,775.37 79.4,775.24 88.5,775.39 97.6,775.64 106.6,775.69 115.7,775.45 124.7,775.09 133.8,774.93 142.8,775.12 151.9,775.52 160.9,775.84 170.0,775.84 180.0,775.57 190.0,775.39 200.0,775.53 210.0,775.86 220.0,775.99 230.0,775.71 240.0,775.27 250.0,775.07 259.2,775.27 268.3,775.64 277.5,775.86 286.7,775.79 295.8,775.56 305.0,775.48 314.2,775.71 323.3,776.11 332.5,776.35 341.7,776.23 350.8,775.86 360.0,775.55 369.2,775.55 378.3,775.81 387.5,776.05 396.7,776.04 405.8,775.79 415.0,775.58 424.2,775.63 433.4,775.99 442.6,776.37 451.8,776.46 461.0,776.21 470.2,775.86 479.5,775.72 488.7,775.86 497.9,776.09 507.1,776.11 516.3,775.82 525.5,775.44 534.7,775.29 543.9,775.50 553.1,775.90 562.3,776.15 571.5,776.08 580.8,775.80 590.0,775.62 599.2,775.73 608.4,776.02 617.6,776.17 626.8,775.99 636.0,775.70" stroke="#f92672" stroke-width="2.0"/>
<polyline points="330.0,774.82 339.4,774.59 348.9,774.33 358.3,774.28 367.8,774.49 377.2,774.78 386.7,774.92 396.1,774.83 405.6,774.68 415.0,774.68 424.2,774.87 433.4,775.10 442.6,775.15 451.8,774.95 461.0,774.64 470.2,774.46 479.5,774.54 488.7,774.74 497.9,774.86 507.1,774.78 516.3,774.58 525.5,774.49 534.7,774.63 543.9,774.92 553.1,775.12 562.3,775.07 571.5,774.81 580.8,774.58 590.0,774.56 599.2,774.71 608.4,774.85 617.6,774.79 626.8,774.56 636.0,774.70" stroke="#7a1a4a" stroke-width="0.9"/>
<polyline points="7.0,773.67 16.3,773.74 25.6,773.52 34.9,773.23 44.2,773.13 53.5,773.28 62.8,773.48 72.1,773.48 81.4,773.22 90.7,772.92 100.0,772.84 110.0,773.15 120.0,773.56 130.0,773.75 140.0,773.62 150.0,773.43 160.0,773.48 170.0,773.77 180.0,774.30 190.0,774.52 200.0,774.47 210.0,774.44 220.0,774.76 230.0,775.33 240.0,775.83 250.0,776.02 260.0,776.06 270.0,776.19 280.0,776.63 290.0,777.17 300.0,777.46 310.0,777.40 320.0,777.22 330.0,777.28 339.4,777.57 348.9,777.92 358.3,778.07 367.8,777.98 377.2,777.87 386.7,778.00 396.1,778.42 405.6,778.90 415.0,779.14 424.4,778.98 433.9,778.72 443.3,778.63 452.8,778.81 462.2,779.05 471.7,779.09 481.1,778.86 490.6,778.58 500.0,778.54 509.1,778.77 518.2,779.12 527.3,779.31 536.4,779.22 545.5,779.00 554.5,778.88 563.6,779.00 572.7,779.26 581.8,779.38 590.9,779.23 600.0,778.88 610.0,778.98 620.0,779.43 636.0,779.20" stroke="#fd971f" stroke-width="2.4"/>
<polyline points="253.0,769.83 258.0,768.54 265.0,767.60 274.3,767.69 283.6,767.82 292.9,767.80 302.1,767.53 311.4,767.17 320.7,766.97 330.0,767.03 339.4,767.26 348.9,767.39 358.3,767.29 367.8,767.08 377.2,766.98 386.7,767.10 396.1,767.33 405.6,767.42 415.0,767.23 424.5,766.87 434.1,766.61 443.6,766.61 453.2,766.76 462.7,766.83 472.3,766.67 481.8,766.40 491.4,766.28 500.9,766.41 510.5,766.67 520.0,766.78 529.7,766.62 539.3,766.29 549.0,766.07 558.7,766.08 568.3,766.21 578.0,766.20 587.7,765.96 597.3,765.64 607.0,765.49 616.7,765.63 626.3,765.89 636.0,765.70" stroke="#e040fb" stroke-width="1.9"/>
<polyline points="319.0,771.16 328.6,771.34 338.2,771.45 347.8,771.33 357.4,771.07 367.0,770.85 376.6,770.81 386.2,770.89 395.8,770.89 405.4,770.70 415.0,770.40 424.5,770.29 434.1,770.41 443.6,770.66 453.2,770.83 462.7,770.81 472.3,770.66 481.8,770.58 491.4,770.68 500.9,770.87 510.5,770.95 520.0,770.82 529.7,770.62 539.3,770.52 549.0,770.66 558.7,770.92 568.3,771.10 578.0,771.09 587.7,771.00 597.3,771.02 607.0,771.23 616.7,771.52 626.3,771.66 636.0,771.40" stroke="#a6e22e" stroke-width="1.6"/>
<polyline points="200.0,772.04 210.0,771.93 220.0,772.06 230.0,772.33 240.0,772.50 250.0,772.40" stroke="#66d9ef" stroke-width="1.0"/>
<polyline points="513.0,770.26 522.4,770.03 531.8,769.90 541.2,769.93 550.6,770.01 560.0,770.01 569.5,769.92 579.0,769.75 588.5,769.66 598.0,769.69 607.5,769.78 617.0,769.78 626.5,769.63 636.0,769.60" stroke="#66d9ef" stroke-width="1.5"/>
</g>
<g shape-rendering="crispEdges">
<rect x="641" y="764" width="2" height="2" fill="#e040fb"/>
<rect x="641" y="769" width="2" height="2" fill="#66d9ef"/>
<rect x="641" y="771" width="2" height="2" fill="#a6e22e"/>
<rect x="641" y="773" width="2" height="3" fill="#f92672"/>
<rect x="641" y="777" width="2" height="3" fill="#fd971f"/>
<rect x="647" y="764" width="2" height="2" fill="#e040fb"/>
<rect x="647" y="769" width="2" height="2" fill="#66d9ef"/>
<rect x="647" y="771" width="2" height="2" fill="#a6e22e"/>
<rect x="647" y="773" width="2" height="3" fill="#f92672"/>
<rect x="647" y="777" width="2" height="3" fill="#fd971f"/>
<rect x="653" y="764" width="2" height="2" fill="#e040fb"/>
<rect x="653" y="769" width="2" height="2" fill="#66d9ef"/>
<rect x="653" y="771" width="2" height="2" fill="#a6e22e"/>
<rect x="653" y="773" width="2" height="3" fill="#f92672"/>
<rect x="653" y="777" width="2" height="3" fill="#fd971f"/>
<rect x="659" y="764" width="2" height="2" fill="#e040fb"/>
<rect x="659" y="769" width="2" height="2" fill="#66d9ef"/>
<rect x="659" y="771" width="2" height="2" fill="#a6e22e"/>
<rect x="659" y="773" width="2" height="3" fill="#f92672"/>
<rect x="659" y="777" width="2" height="3" fill="#fd971f"/>
</g>
<path d="M666 767.5 L674 759 L674 758 Q674 755 677 755 L710.5 755 Q713.5 755 713.5 758 L713.5 777 Q713.5 780 710.5 780 L677 780 Q674 780 674 777 L674 776 Z" fill="#ae81ff"/>
<path d="M665 765.5 L673 757 L673 756 Q673 753 676 753 L709.5 753 Q712.5 753 712.5 756 L712.5 775 Q712.5 778 709.5 778 L676 778 Q673 778 673 775 L673 774 Z" fill="#e040fb"/>
<path d="M665 770.5 L673 762 L673 761 Q673 758 676 758 L709.5 758 Q712.5 758 712.5 761 L712.5 780 Q712.5 783 709.5 783 L676 783 Q673 783 673 780 L673 779 Z" fill="#66d9ef"/>
<path d="M665 772.5 L673 764 L673 763 Q673 760 676 760 L710 760 Q713 760 713 763 L713 782 Q713 785 710 785 L676 785 Q673 785 673 782 L673 781 Z" fill="#a6e22e"/>
<path d="M665 774.5 L673 766 L673 765 Q673 762 676 762 L709 762 Q712 762 712 765 L712 784 Q712 787 709 787 L676 787 Q673 787 673 784 L673 783 Z" fill="#f92672"/>
<path d="M665 779.5 L673 771 L673 770 Q673 767 676 767 L709 767 Q712 767 712 770 L712 789 Q712 792 709 792 L676 792 Q673 792 673 789 L673 788 Z" fill="#fd971f"/>
<text x="692" y="783" font-size="12" fill="#3b2a12" stroke="#3b2a12" stroke-width="0.22" text-anchor="middle" textLength="20.5" lengthAdjust="spacingAndGlyphs" >USD</text>
<g shape-rendering="crispEdges"><rect x="798" y="757" width="137" height="34" fill="#e040fb"/><rect x="798" y="791" width="137" height="7" fill="#66d9ef"/></g>
<text x="804" y="777" font-size="12" fill="#33203a" stroke="#33203a" stroke-width="0.22" >1</text>
<text x="823" y="781" font-size="14" fill="#2b1a30" stroke="#2b1a30" stroke-width="0.22" textLength="20" lengthAdjust="spacingAndGlyphs" >NZ</text>
<text x="855" y="777" font-size="12" fill="#33203a" stroke="#33203a" stroke-width="0.22" textLength="25" lengthAdjust="spacingAndGlyphs" >NZD</text>
<text x="895" y="778" font-size="13" fill="#33203a" stroke="#33203a" stroke-width="0.22" textLength="33" lengthAdjust="spacingAndGlyphs" >146.7</text>
<text x="15.4" y="767.8" font-size="13" fill="#cfcfcf" stroke="#cfcfcf" stroke-width="0.22" textLength="50.0" lengthAdjust="spacingAndGlyphs" fill-opacity="0.82">Currency</text>
<text x="69.4" y="767.8" font-size="13" fill="#cfcfcf" stroke="#cfcfcf" stroke-width="0.22" textLength="47.3" lengthAdjust="spacingAndGlyphs" fill-opacity="0.82">Strength</text>
<text x="121.4" y="767.8" font-size="13" fill="#cfcfcf" stroke="#cfcfcf" stroke-width="0.22" textLength="28.8" lengthAdjust="spacingAndGlyphs" fill-opacity="0.82">Chart</text>
<text x="154.9" y="767.8" font-size="13" fill="#cfcfcf" stroke="#cfcfcf" stroke-width="0.22" textLength="31.2" lengthAdjust="spacingAndGlyphs" fill-opacity="0.82">(Auto,</text>
<text x="189.8" y="767.8" font-size="13" fill="#cfcfcf" stroke="#cfcfcf" stroke-width="0.22" textLength="13.8" lengthAdjust="spacingAndGlyphs" fill-opacity="0.82">D,</text>
<text x="208.6" y="767.8" font-size="13" fill="#cfcfcf" stroke="#cfcfcf" stroke-width="0.22" textLength="22.8" lengthAdjust="spacingAndGlyphs" fill-opacity="0.82">100,</text>
<text x="236.4" y="767.8" font-size="13" fill="#cfcfcf" stroke="#cfcfcf" stroke-width="0.22" textLength="44.6" lengthAdjust="spacingAndGlyphs" fill-opacity="0.82">OANDA,</text>
<text x="285.4" y="767.8" font-size="13" fill="#cfcfcf" stroke="#cfcfcf" stroke-width="0.22" textLength="29.8" lengthAdjust="spacingAndGlyphs" fill-opacity="0.82">Every</text>
<text x="319.6" y="767.8" font-size="13" fill="#cfcfcf" stroke="#cfcfcf" stroke-width="0.22" textLength="28.0" lengthAdjust="spacingAndGlyphs" fill-opacity="0.82">ticks,</text>
<text x="352.6" y="767.8" font-size="13" fill="#cfcfcf" stroke="#cfcfcf" stroke-width="0.22" textLength="27.8" lengthAdjust="spacingAndGlyphs" fill-opacity="0.82">Lines</text>
<text x="384.4" y="767.8" font-size="13" fill="#cfcfcf" stroke="#cfcfcf" stroke-width="0.22" textLength="24.9" lengthAdjust="spacingAndGlyphs" fill-opacity="0.82">only,</text>
<text x="414.6" y="767.8" font-size="13" fill="#cfcfcf" stroke="#cfcfcf" stroke-width="0.22" textLength="49.7" lengthAdjust="spacingAndGlyphs" fill-opacity="0.82">monokai,</text>
<text x="470.3" y="767.8" font-size="13" fill="#cfcfcf" stroke="#cfcfcf" stroke-width="0.22" textLength="16.7" lengthAdjust="spacingAndGlyphs" fill-opacity="0.82">No,</text>
<text x="493.4" y="767.8" font-size="13" fill="#cfcfcf" stroke="#cfcfcf" stroke-width="0.22" textLength="8.6" lengthAdjust="spacingAndGlyphs" fill-opacity="0.82">2,</text>
<text x="507.25" y="767.8" font-size="13" fill="#cfcfcf" stroke="#cfcfcf" stroke-width="0.22" textLength="8.6" lengthAdjust="spacingAndGlyphs" fill-opacity="0.82">2,</text>
<text x="521.1" y="767.8" font-size="13" fill="#cfcfcf" stroke="#cfcfcf" stroke-width="0.22" textLength="8.6" lengthAdjust="spacingAndGlyphs" fill-opacity="0.82">2,</text>
<text x="534.9499999999999" y="767.8" font-size="13" fill="#cfcfcf" stroke="#cfcfcf" stroke-width="0.22" textLength="8.6" lengthAdjust="spacingAndGlyphs" fill-opacity="0.82">2,</text>
<text x="548.8" y="767.8" font-size="13" fill="#cfcfcf" stroke="#cfcfcf" stroke-width="0.22" textLength="8.6" lengthAdjust="spacingAndGlyphs" fill-opacity="0.82">2,</text>
<text x="562.65" y="767.8" font-size="13" fill="#cfcfcf" stroke="#cfcfcf" stroke-width="0.22" textLength="8.6" lengthAdjust="spacingAndGlyphs" fill-opacity="0.82">2,</text>
<text x="576.5" y="767.8" font-size="13" fill="#cfcfcf" stroke="#cfcfcf" stroke-width="0.22" textLength="8.6" lengthAdjust="spacingAndGlyphs" fill-opacity="0.82">2,</text>
<text x="590.35" y="767.8" font-size="13" fill="#cfcfcf" stroke="#cfcfcf" stroke-width="0.22" textLength="8.6" lengthAdjust="spacingAndGlyphs" fill-opacity="0.82">2,</text>
<text x="603.4" y="767.8" font-size="13" fill="#cfcfcf" stroke="#cfcfcf" stroke-width="0.22" textLength="25.2" lengthAdjust="spacingAndGlyphs" fill-opacity="0.82">XAU,</text>
<text x="634" y="767.8" font-size="13" fill="#cfcfcf" stroke="#cfcfcf" stroke-width="0.22" textLength="48" lengthAdjust="spacingAndGlyphs" fill-opacity="0.82">XAUUSD,</text>
<text x="688.7" y="767.8" font-size="13" fill="#cfcfcf" stroke="#cfcfcf" stroke-width="0.22" textLength="8.5" lengthAdjust="spacingAndGlyphs" fill-opacity="0.82">2,</text>
<text x="702" y="767.8" font-size="13" fill="#cfcfcf" stroke="#cfcfcf" stroke-width="0.22" textLength="25.3" lengthAdjust="spacingAndGlyphs" fill-opacity="0.82">XAG,</text>
<text x="732.3" y="767.8" font-size="13" fill="#cfcfcf" stroke="#cfcfcf" stroke-width="0.22" textLength="47.0" lengthAdjust="spacingAndGlyphs" fill-opacity="0.82">XAGUSD,</text>
<text x="786.5" y="767.8" font-size="13" fill="#cfcfcf" stroke="#cfcfcf" stroke-width="0.22" textLength="8.5" lengthAdjust="spacingAndGlyphs" fill-opacity="0.82">2,</text>
<text x="801" y="767.8" font-size="13" fill="#cfcfcf" stroke="#cfcfcf" stroke-width="0.22" textLength="40.3" lengthAdjust="spacingAndGlyphs" fill-opacity="0.82">normal,</text>
<text x="847.4" y="767.8" font-size="13" fill="#cfcfcf" stroke="#cfcfcf" stroke-width="0.22" textLength="30.8" lengthAdjust="spacingAndGlyphs" fill-opacity="0.82">close,</text>
<text x="885" y="767.8" font-size="13" fill="#cfcfcf" stroke="#cfcfcf" stroke-width="0.22" textLength="7.8" lengthAdjust="spacingAndGlyphs" fill-opacity="0.82">7,</text>
<text x="895.7" y="767.8" font-size="13" fill="#cfcfcf" stroke="#cfcfcf" stroke-width="0.22" textLength="27.8" lengthAdjust="spacingAndGlyphs" fill-opacity="0.82">SMA,</text>
<text x="930.2" y="767.8" font-size="13" fill="#cfcfcf" stroke="#cfcfcf" stroke-width="0.22" textLength="7.3" lengthAdjust="spacingAndGlyphs" fill-opacity="0.82">1,</text>
<circle cx="635.5" cy="733.4" r="9.8" fill="#0f0f0f" stroke="#b64acb" stroke-width="1.6"/>
<path d="M638.6 728.1 L631.2 733.6 L635.3 733.9 L632.1 739.0 L639.9 733.2 L635.8 732.9 Z" fill="#b84ccc"/>
<text x="954" y="113" font-size="12" fill="#bebebe" stroke="#bebebe" stroke-width="0.22" textLength="35.5" lengthAdjust="spacingAndGlyphs" >0.2900</text>
<text x="954" y="149" font-size="12" fill="#bebebe" stroke="#bebebe" stroke-width="0.22" textLength="35.5" lengthAdjust="spacingAndGlyphs" >0.2850</text>
<text x="954" y="185" font-size="12" fill="#bebebe" stroke="#bebebe" stroke-width="0.22" textLength="35.5" lengthAdjust="spacingAndGlyphs" >0.2800</text>
<text x="954" y="221" font-size="12" fill="#bebebe" stroke="#bebebe" stroke-width="0.22" textLength="35.5" lengthAdjust="spacingAndGlyphs" >0.2750</text>
<text x="954" y="257" font-size="12" fill="#bebebe" stroke="#bebebe" stroke-width="0.22" textLength="35.5" lengthAdjust="spacingAndGlyphs" >0.2700</text>
<text x="954" y="293" font-size="12" fill="#bebebe" stroke="#bebebe" stroke-width="0.22" textLength="35.5" lengthAdjust="spacingAndGlyphs" >0.2650</text>
<text x="954" y="329" font-size="12" fill="#bebebe" stroke="#bebebe" stroke-width="0.22" textLength="35.5" lengthAdjust="spacingAndGlyphs" >0.2600</text>
<text x="954" y="401" font-size="12" fill="#bebebe" stroke="#bebebe" stroke-width="0.22" textLength="35.5" lengthAdjust="spacingAndGlyphs" >0.2500</text>
<text x="954" y="438" font-size="12" fill="#bebebe" stroke="#bebebe" stroke-width="0.22" textLength="35.5" lengthAdjust="spacingAndGlyphs" >0.2450</text>
<text x="954" y="474" font-size="12" fill="#bebebe" stroke="#bebebe" stroke-width="0.22" textLength="35.5" lengthAdjust="spacingAndGlyphs" >0.2400</text>
<text x="954" y="510" font-size="12" fill="#bebebe" stroke="#bebebe" stroke-width="0.22" textLength="35.5" lengthAdjust="spacingAndGlyphs" >0.2350</text>
<text x="954" y="546" font-size="12" fill="#bebebe" stroke="#bebebe" stroke-width="0.22" textLength="35.5" lengthAdjust="spacingAndGlyphs" >0.2300</text>
<text x="954" y="582" font-size="12" fill="#bebebe" stroke="#bebebe" stroke-width="0.22" textLength="35.5" lengthAdjust="spacingAndGlyphs" >0.2250</text>
<text x="954" y="618" font-size="12" fill="#bebebe" stroke="#bebebe" stroke-width="0.22" textLength="35.5" lengthAdjust="spacingAndGlyphs" >0.2200</text>
<text x="954" y="654" font-size="12" fill="#bebebe" stroke="#bebebe" stroke-width="0.22" textLength="35.5" lengthAdjust="spacingAndGlyphs" >0.2150</text>
<text x="954" y="690" font-size="12" fill="#bebebe" stroke="#bebebe" stroke-width="0.22" textLength="35.5" lengthAdjust="spacingAndGlyphs" >0.2100</text>
<text x="954" y="726" font-size="12" fill="#bebebe" stroke="#bebebe" stroke-width="0.22" textLength="35.5" lengthAdjust="spacingAndGlyphs" >0.2050</text>
<path d="M946 305 H992.5 Q995 305 995 307.5 V319.5 Q995 322 992.5 322 H946 Z" fill="#f23645"/>
<text x="954" y="318" font-size="12" fill="#ffffff" stroke="#ffffff" stroke-width="0.5" textLength="35.5" lengthAdjust="spacingAndGlyphs" >0.2617</text>
<path d="M946 337 H992.5 Q995 337 995 339.5 V365.5 Q995 368 992.5 368 H946 Z" fill="#089981"/>
<text x="954" y="350" font-size="12" fill="#ffffff" stroke="#ffffff" stroke-width="0.5" textLength="35.5" lengthAdjust="spacingAndGlyphs" >0.2572</text>
<text x="954" y="364" font-size="12" fill="#bfe6df" stroke="#bfe6df" stroke-width="0.22" textLength="29" lengthAdjust="spacingAndGlyphs" >56:30</text>
<path d="M946 368 H992.5 Q995 368 995 370.5 V382.5 Q995 385 992.5 385 H946 Z" fill="#787b86"/>
<text x="954" y="381" font-size="12" fill="#ffffff" stroke="#ffffff" stroke-width="0.5" textLength="35.5" lengthAdjust="spacingAndGlyphs" >0.2570</text>
<path d="M946 465 H992.5 Q995 465 995 467.5 V479.5 Q995 482 992.5 482 H946 Z" fill="#089981"/>
<text x="954" y="478" font-size="12" fill="#ffffff" stroke="#ffffff" stroke-width="0.5" textLength="35.5" lengthAdjust="spacingAndGlyphs" >0.2395</text>
<path d="M946 730 H995.5 Q998 730 998 732.5 V743.5 Q998 746 995.5 746 H946 Z" fill="#26a69a"/>
<text x="954.5" y="743" font-size="12" fill="#ffffff" stroke="#ffffff" stroke-width="0.5" textLength="38.2" lengthAdjust="spacingAndGlyphs" >22.16 K</text>
<path d="M946 757 H992.5 Q995 757 995 759.5 V771.5 Q995 774 992.5 774 H946 Z" fill="#e040fb"/>
<text x="954" y="770" font-size="12" fill="#ffffff" stroke="#ffffff" stroke-width="0.5" textLength="35.5" lengthAdjust="spacingAndGlyphs" >146.70</text>
<rect x="946" y="774" width="43" height="17" fill="#66d9ef"/>
<text x="954" y="787" font-size="12" fill="#1c2b30" stroke="#1c2b30" stroke-width="0.22" textLength="29" lengthAdjust="spacingAndGlyphs" >65.37</text>
<rect x="946" y="791" width="43" height="7" fill="#a6e22e"/>
<clipPath id="cg"><rect x="946" y="791" width="43" height="7"/></clipPath>
<text x="954" y="804" font-size="12" fill="#1c2b30" stroke="#1c2b30" stroke-width="0.22" textLength="29" lengthAdjust="spacingAndGlyphs" clip-path="url(#cg)">40.42</text>
<rect x="948.5" y="47.5" width="55" height="27" rx="4" ry="4" fill="#0f0f0f" stroke="#3b3b3b" stroke-width="1.2"/>
<text x="958" y="66" font-size="12" fill="#dcdcdc" stroke="#dcdcdc" stroke-width="0.35" textLength="27.5" lengthAdjust="spacingAndGlyphs" >USDT</text>
<text x="24.5" y="816" font-size="12" fill="#bebebe" stroke="#bebebe" stroke-width="0.22" text-anchor="middle" textLength="29" lengthAdjust="spacingAndGlyphs" >12:00</text>
<text x="95.0" y="816" font-size="12" fill="#c8c8c8" stroke="#c8c8c8" stroke-width="0.5" text-anchor="middle" textLength="13.5" lengthAdjust="spacingAndGlyphs" >25</text>
<text x="166.5" y="816" font-size="12" fill="#bebebe" stroke="#bebebe" stroke-width="0.22" text-anchor="middle" textLength="29" lengthAdjust="spacingAndGlyphs" >12:00</text>
<text x="238.0" y="816" font-size="12" fill="#c8c8c8" stroke="#c8c8c8" stroke-width="0.5" text-anchor="middle" textLength="13.5" lengthAdjust="spacingAndGlyphs" >26</text>
<text x="309.5" y="816" font-size="12" fill="#bebebe" stroke="#bebebe" stroke-width="0.22" text-anchor="middle" textLength="29" lengthAdjust="spacingAndGlyphs" >12:00</text>
<text x="380.0" y="816" font-size="12" fill="#c8c8c8" stroke="#c8c8c8" stroke-width="0.5" text-anchor="middle" textLength="13.5" lengthAdjust="spacingAndGlyphs" >27</text>
<text x="451.5" y="816" font-size="12" fill="#bebebe" stroke="#bebebe" stroke-width="0.22" text-anchor="middle" textLength="29" lengthAdjust="spacingAndGlyphs" >12:00</text>
<text x="523.0" y="816" font-size="12" fill="#c8c8c8" stroke="#c8c8c8" stroke-width="0.5" text-anchor="middle" textLength="13.5" lengthAdjust="spacingAndGlyphs" >28</text>
<text x="594.5" y="816" font-size="12" fill="#bebebe" stroke="#bebebe" stroke-width="0.22" text-anchor="middle" textLength="29" lengthAdjust="spacingAndGlyphs" >12:00</text>
<text x="665.0" y="816" font-size="12" fill="#c8c8c8" stroke="#c8c8c8" stroke-width="0.5" text-anchor="middle" textLength="13.5" lengthAdjust="spacingAndGlyphs" >29</text>
<text x="736.5" y="816" font-size="12" fill="#bebebe" stroke="#bebebe" stroke-width="0.22" text-anchor="middle" textLength="29" lengthAdjust="spacingAndGlyphs" >12:00</text>
<text x="807.0" y="816" font-size="12" fill="#c8c8c8" stroke="#c8c8c8" stroke-width="0.5" text-anchor="middle" textLength="13.5" lengthAdjust="spacingAndGlyphs" >30</text>
<text x="879.5" y="816" font-size="12" fill="#bebebe" stroke="#bebebe" stroke-width="0.22" text-anchor="middle" textLength="29" lengthAdjust="spacingAndGlyphs" >12:00</text>
<text x="15.8" y="64.8" font-size="13" fill="#cbcbcb" font-weight="bold" textLength="43.4" lengthAdjust="spacingAndGlyphs" >PIUSDT</text>
<text x="61.6" y="64.8" font-size="13" fill="#cbcbcb" font-weight="bold" textLength="28.1" lengthAdjust="spacingAndGlyphs" >SPOT</text>
<text x="101.6" y="64.8" font-size="13" fill="#cbcbcb" font-weight="bold" textLength="13.4" lengthAdjust="spacingAndGlyphs" >1h</text>
<text x="126.2" y="64.8" font-size="13" fill="#cbcbcb" font-weight="bold" textLength="33.2" lengthAdjust="spacingAndGlyphs" >Bitget</text>
<g fill="#cbcbcb"><rect x="94.3" y="60.2" width="2.2" height="2.2"/><rect x="119.5" y="60.2" width="2.2" height="2.2"/></g>
<text x="15.8" y="82" font-size="13" fill="#b4b4b4" stroke="#b4b4b4" stroke-width="0.22" textLength="16.7" lengthAdjust="spacingAndGlyphs" >Vol</text>
<text x="43.4" y="82" font-size="13" fill="#b4b4b4" stroke="#b4b4b4" stroke-width="0.22" textLength="9.5" lengthAdjust="spacingAndGlyphs" >PI</text>
<rect x="36.8" y="77.3" width="1.8" height="1.8" fill="#b4b4b4"/>
<text x="6.4" y="17.4" font-size="13" fill="#d1d4dc" font-weight="bold" textLength="58.2" lengthAdjust="spacingAndGlyphs" >EhsanFibo</text>
<text x="68.7" y="17.4" font-size="13" fill="#d1d4dc" stroke="#d1d4dc" stroke-width="0.22" textLength="54.3" lengthAdjust="spacingAndGlyphs" >published</text>
<text x="127.4" y="17.4" font-size="13" fill="#d1d4dc" stroke="#d1d4dc" stroke-width="0.22" textLength="14.1" lengthAdjust="spacingAndGlyphs" >on</text>
<text x="145.2" y="17.4" font-size="13" fill="#d1d4dc" stroke="#d1d4dc" stroke-width="0.22" textLength="98.9" lengthAdjust="spacingAndGlyphs" >TradingView.com,</text>
<text x="250" y="17.4" font-size="13" fill="#d1d4dc" stroke="#d1d4dc" stroke-width="0.22" textLength="57.2" lengthAdjust="spacingAndGlyphs" >November</text>
<text x="313.1" y="17.4" font-size="13" fill="#d1d4dc" stroke="#d1d4dc" stroke-width="0.22" textLength="16.7" lengthAdjust="spacingAndGlyphs" >28,</text>
<text x="333.8" y="17.4" font-size="13" fill="#d1d4dc" stroke="#d1d4dc" stroke-width="0.22" textLength="26.7" lengthAdjust="spacingAndGlyphs" >2025</text>
<text x="365" y="17.4" font-size="13" fill="#d1d4dc" stroke="#d1d4dc" stroke-width="0.22" textLength="48.2" lengthAdjust="spacingAndGlyphs" >12:03:37</text>
<text x="417.7" y="17.4" font-size="13" fill="#d1d4dc" stroke="#d1d4dc" stroke-width="0.22" textLength="19.4" lengthAdjust="spacingAndGlyphs" >EST</text>
<text x="6.7" y="34" font-size="13" fill="#d1d4dc" font-weight="bold" textLength="88.2" lengthAdjust="spacingAndGlyphs" >BITGET:PIUSDT,</text>
<text x="99.3" y="34" font-size="13" fill="#d1d4dc" font-weight="bold" textLength="12.4" lengthAdjust="spacingAndGlyphs" >60</text>
<text x="119.7" y="34" font-size="13" fill="#d1d4dc" stroke="#d1d4dc" stroke-width="0.22" textLength="36.2" lengthAdjust="spacingAndGlyphs" >0.2572</text>
<text x="175.4" y="34" font-size="13" fill="#d1d4dc" stroke="#d1d4dc" stroke-width="0.22" textLength="44.3" lengthAdjust="spacingAndGlyphs" >–0.0148</text>
<text x="224" y="34" font-size="13" fill="#d1d4dc" stroke="#d1d4dc" stroke-width="0.22" textLength="49.3" lengthAdjust="spacingAndGlyphs" >(–5.44%)</text>
<path d="M160.7 25.4 L170.7 25.4 L165.7 34.7 Z" fill="#ef5350"/>
<text x="278.5" y="34" font-size="13" fill="#d1d4dc" font-weight="bold" textLength="12.2" lengthAdjust="spacingAndGlyphs" >O:</text>
<text x="335.7" y="34" font-size="13" fill="#d1d4dc" font-weight="bold" textLength="11.4" lengthAdjust="spacingAndGlyphs" >H:</text>
<text x="392.9" y="34" font-size="13" fill="#d1d4dc" font-weight="bold" textLength="9.6" lengthAdjust="spacingAndGlyphs" >L:</text>
<text x="447" y="34" font-size="13" fill="#d1d4dc" font-weight="bold" textLength="9.6" lengthAdjust="spacingAndGlyphs" >C:</text>
<text x="292.6" y="34" font-size="13" fill="#e5534b" stroke="#e5534b" stroke-width="0.22" textLength="38.0" lengthAdjust="spacingAndGlyphs" >0.2571</text>
<text x="349" y="34" font-size="13" fill="#e5534b" stroke="#e5534b" stroke-width="0.22" textLength="38.6" lengthAdjust="spacingAndGlyphs" >0.2574</text>
<text x="403.9" y="34" font-size="13" fill="#e5534b" stroke="#e5534b" stroke-width="0.22" textLength="38.3" lengthAdjust="spacingAndGlyphs" >0.2570</text>
<text x="458.4" y="34" font-size="13" fill="#e5534b" stroke="#e5534b" stroke-width="0.22" textLength="38.1" lengthAdjust="spacingAndGlyphs" >0.2572</text>
<g transform="translate(5.8,835.84) scale(0.639)" fill="#d1d4dc"><path d="M14 22H7V11H0V4h14v18zM28 22h-8l7.5-18h8L28 22z"/><circle cx="20" cy="8" r="4"/></g>
<text x="33.8" y="849.7" font-size="15.5" fill="#d1d4dc" font-weight="bold" textLength="91.2" lengthAdjust="spacingAndGlyphs" >TradingView</text>
</svg>
</body></html>
